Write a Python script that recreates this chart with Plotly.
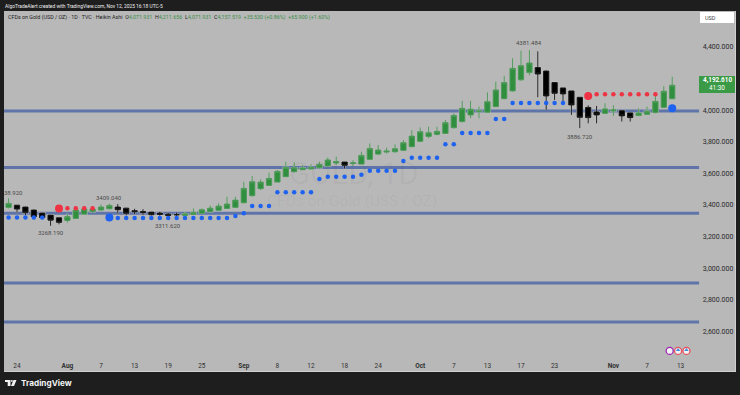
import plotly.graph_objects as go

bar_index = list(range(-1, 79))
opens = [3385,3399,3387,3368,3349,3336,3319,3302,3315,3342,3357,3368,3376,3387,3380,3364,3359,3355,3349,3342,3340,3334,3340,3347,3357,3366,3378,3385,
         3414,3459,3503,3524,3545,3579,3611,3623,3628,3636,3647,3666,3672,3663,3659,3689,3722,3735,3737,3746,3769,3803,3834,3847,3853,3889,
         3928,3970,3991,3987,4023,4073,4122,4192,4238,4270,4248,4175,4141,4122,4082,4018,3989,3980,3995,3997,3983,3966,3974,3985,4018,4072]
highs = [3442,3399,3389,3370,3349,3336,3319,3347,3378,3393,3393,3404,3409,3406,3382,3376,3374,3355,3357,3351,3353,3357,3378,3378,3397,3410,3452,3452,
         3547,3583,3562,3604,3621,3674,3670,3653,3657,3674,3701,3706,3672,3684,3737,3790,3779,3763,3784,3811,3874,3891,3895,3895,3938,3980,
         4059,4059,4023,4113,4181,4217,4329,4377,4381,4373,4250,4175,4141,4122,4082,4031,4027,4044,4031,3997,3983,4012,4023,4090,4153,4212]
lows = [3378,3351,3336,3309,3309,3268,3277,3288,3315,3342,3351,3364,3372,3347,3334,3342,3336,3334,3332,3312,3330,3330,3338,3347,3357,3366,3378,3385,
        3410,3452,3495,3524,3545,3579,3604,3621,3625,3632,3642,3653,3630,3646,3659,3685,3716,3725,3731,3744,3765,3798,3822,3841,3853,3885,
        3921,3949,3949,3987,4018,4069,4118,4187,4221,4082,4002,4065,4044,3970,3887,3917,3917,3976,3964,3928,3928,3966,3972,3980,4016,4072]
closes = [3410,3374,3351,3326,3319,3304,3290,3326,3368,3374,3374,3387,3397,3370,3347,3357,3351,3338,3340,3334,3338,3344,3353,3370,3380,3393,3406,3431,
          3505,3547,3545,3568,3613,3638,3636,3634,3638,3657,3685,3674,3651,3666,3714,3758,3748,3741,3756,3794,3836,3864,3857,3866,3921,3967,
          4012,4006,3995,4054,4128,4175,4265,4282,4299,4229,4090,4107,4103,4033,3955,3953,3970,4008,4002,3964,3953,3983,3993,4056,4120,4158]

level_prices = [3995, 3638, 3347, 2906, 2659]

blue_x = [-1,0,1,2,3] + list(range(12,26)) + [26,27,28,29,30,31,32,33,34,35,36,37,38,39,40,41,42,43,44,45,46,47,48,49,50,51,52,53,54,55,56,57,58,59,60,61,62,63,64,65]
blue_y = [3320]*5 + [3318]*14 + [3330,3347,3394,3394,3394,3480,3480,3480,3480,3480,3564,3579,3579,3579,3579,3592,3617,3617,3617,3617,3678,3699,3699,3699,3699,3784,3784,3856,3856,3856,3856,3944,3944,4045,4045,4045,4045,4045,4045,4045]
red_x = [6,7,8,9,69,70,71,72,73,74,75,76]
red_y = [3380,3380,3380,3380,4101,4101,4101,4101,4101,4101,4101,4101]
big_red_x = [5, 68]
big_red_y = [3378, 4090]
big_blue_x = [11, 78]
big_blue_y = [3320, 4012]

price_ticks = [4400,4200,4000,3800,3600,3400,3200,3000,2800,2600]
price_tick_text = ["4,400.000","4,200.000","4,000.000","3,800.000","3,600.000","3,400.000","3,200.000","3,000.000","2,800.000","2,600.000"]
date_ticks = [0,6,10,14,18,22,27,31,35,39,43,48,52,56,60,64,71,75,79]
date_labels = ["24","<b>Aug</b>","7","13","19","25","<b>Sep</b>","8","12","18","24","<b>Oct</b>","7","13","17","23","<b>Nov</b>","7","13"]

peak_labels = [("38.920",-0.4,3478),("3409.040",11,3447),("3268.190",4,3223),("3311.620",18,3270),("4381.484",61,4431),("3886.720",67,3836)]

event_x = [77.7, 78.7, 79.7]
event_y = [2476, 2476, 2476]
event_colors = ["#9c27b0", "#e8505b", "#e8505b"]

FONT = "Roboto, Liberation Sans, sans-serif"
BG = "#1e1e1e"; PANEL = "#b8b8b8"; GREEN = "#2f8f3f"; LEVEL = "#5f75aa"; BLUE = "#1e62f0"; RED = "#ee3344"
L, R, T, B = 4, 735, 11, 371
W, H = 740, 395
def px(x): return (x - L) / (R - L)
def py(y): return 1 - (y - T) / (B - T)

fig = go.Figure()

line_end = 81.2
x_lo, x_hi = -1.548, 85.476

fig.add_trace(go.Candlestick(x=bar_index, open=opens, high=highs, low=lows, close=closes, whiskerwidth=0,
                             increasing=dict(line=dict(color="#c0c0c0", width=1.5), fillcolor="#c0c0c0"),
                             decreasing=dict(line=dict(color="#d2d2d2", width=1.5), fillcolor="#d2d2d2"),
                             showlegend=False, hoverinfo="skip"))
fig.add_trace(go.Candlestick(x=bar_index, open=opens, high=highs, low=lows, close=closes, whiskerwidth=0,
                             increasing=dict(line=dict(color="#4f9a5a", width=1), fillcolor=GREEN),
                             decreasing=dict(line=dict(color="#1c1c1c", width=1), fillcolor="#000000"),
                             showlegend=False))

def dots(x, y, color, size):
    fig.add_trace(go.Scatter(x=x, y=y, mode="markers", marker=dict(color=color, size=size, line=dict(width=0)),
                             hoverinfo="skip", showlegend=False))
dots(blue_x, blue_y, BLUE, 4.5)
dots(red_x, red_y, RED, 4.5)
dots(big_red_x, big_red_y, RED, 8)
dots(big_blue_x, big_blue_y, BLUE, 8)

fig.add_trace(go.Scatter(x=event_x, y=event_y, mode="markers",
                         marker=dict(color="#f4f4f4", size=7, line=dict(color=event_colors, width=1.3)),
                         hoverinfo="skip", showlegend=False))
fig.add_trace(go.Scatter(x=event_x[1:], y=[2482, 2482], mode="markers",
                         marker=dict(color="#3d8ee0", size=4, symbol="triangle-up", line=dict(width=0)),
                         hoverinfo="skip", showlegend=False))

ann = []
def text(x, y, s, size, color, anchor="left", **kw):
    ann.append(dict(xref="paper", yref="paper", x=px(x), y=py(y), text=s, showarrow=False, xanchor=anchor, yanchor="middle",
                    font=dict(family=kw.pop("family", FONT), size=size, color=color), borderpad=0, **kw))

for s, bx, p in peak_labels:
    ann.append(dict(x=bx, y=p, xref="x", yref="y", text=s, showarrow=False, font=dict(family=FONT, size=6, color="#4a4a4a")))

text(354, 174, "GOLD, 1D", 31, "rgba(0,0,0,0.045)", "center")
text(352, 201, "CFDs on Gold (US$ / OZ)", 15.5, "rgba(0,0,0,0.045)", "center")

text(4, 6, "AlgoTradeAlert created with TradingView.com, Nov 12, 2025 16:18 UTC-5", 4.9, "#f0f0f0")
g = '<span style="color:#3c8f4a">%s</span>'
legend = ("CFDs on Gold (USD / OZ) · 1D · TVC · Heikin Ashi  O" + g % "4,071.931" + "  H" + g % "4,211.656" + "  L" + g % "4,071.931"
          + "  C" + g % "4,157.519" + "  " + g % "+35.530 (+0.86%)" + "  " + g % "+65.900 (+1.60%)")
text(7, 17, legend, 5.35, "#202020")

text(717, 79.8, "<b>4,192.610</b>", 6.4, "#ffffff", "center")
text(717, 88, "41:30", 6.4, "#ffffff", "center")
text(704, 18, "USD", 5.5, "#444444")
text(20, 383, "<b>TradingView</b>", 8.2, "#f2f2f2", family="Inter, Roboto, sans-serif")

shapes = [dict(type="line", xref="x", yref="y", x0=x_lo, x1=line_end, y0=lv, y1=lv, line=dict(color=LEVEL, width=3), layer="below")
          for lv in level_prices]
shapes += [
    dict(type="rect", xref="paper", yref="paper", x0=px(699), x1=px(735), y0=py(93), y1=py(76), fillcolor="#3a9a46", line=dict(width=0), layer="above"),
    dict(type="rect", xref="paper", yref="paper", x0=px(700), x1=px(734), y0=py(23), y1=py(12), fillcolor="#ffffff", line=dict(width=0), layer="above"),
    dict(type="path", xref="paper", yref="paper", line=dict(width=0), fillcolor="#f2f2f2",
         path=f"M {px(5)} {py(380)} L {px(10.5)} {py(380)} L {px(10.5)} {py(386)} L {px(7.7)} {py(386)} L {px(7.7)} {py(382)} L {px(5)} {py(382)} Z"),
    dict(type="circle", xref="paper", yref="paper", x0=px(11), x1=px(12.8), y0=py(381.9), y1=py(380.1), fillcolor="#f2f2f2", line=dict(width=0)),
    dict(type="path", xref="paper", yref="paper", line=dict(width=0), fillcolor="#f2f2f2",
         path=f"M {px(13.5)} {py(380)} L {px(16.5)} {py(380)} L {px(14)} {py(386)} L {px(11)} {py(386)} Z"),
]

fig.update_layout(
    width=W, height=H, margin=dict(l=L, r=W - R, t=T, b=H - B),
    paper_bgcolor=BG, plot_bgcolor=PANEL, annotations=ann, shapes=shapes, showlegend=False, boxgap=0.1,
    font=dict(family=FONT),
    xaxis=dict(range=[x_lo, x_hi], tickvals=date_ticks, ticktext=date_labels, showgrid=False, zeroline=False,
               rangeslider=dict(visible=False), ticks="", ticklabelposition="inside",
               tickfont=dict(size=6.5, color="#303030"), showline=True, linecolor="#cfcfcf", linewidth=1),
    yaxis=dict(range=[2349, 4628], side="right", tickvals=price_ticks, ticktext=price_tick_text, showgrid=False, zeroline=False,
               ticks="", ticklabelposition="inside", tickfont=dict(size=7, color="#2a2a2a"),
               showline=True, linecolor="#cfcfcf", linewidth=1),
)

fig.write_html("out.html", config=dict(displayModeBar=False),
               post_script="document.body.style.margin='0';document.documentElement.style.overflow='hidden';")
